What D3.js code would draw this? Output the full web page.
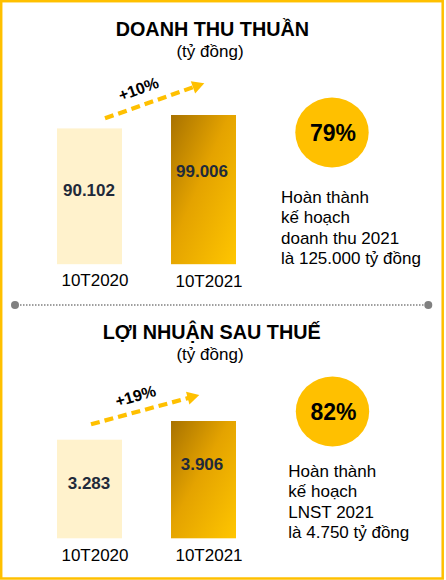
<!DOCTYPE html>
<html>
<head>
<meta charset="utf-8">
<script src="https://cdn.jsdelivr.net/npm/d3@7"></script>
<style>
  html, body { margin: 0; padding: 0; background: #ffffff; }
  svg { display: block; }
  text { font-family: "Liberation Sans", Arial, sans-serif; }
</style>
</head>
<body>
<svg id="chart" width="446" height="580"></svg>
<script>
// ---------- DATA ----------
const categories = ["10T2020", "10T2021"];
const revenueValues = [90.102, 99.006];
const profitValues = [3.283, 3.906];
const revenueLabels = ["90.102", "99.006"];
const profitLabels = ["3.283", "3.906"];
const sectionTitles = ["DOANH THU THUẦN", "LỢI NHUẬN SAU THUẾ"];
const unitLabel = "(tỷ đồng)";
const growthLabels = ["+10%", "+19%"];
const completionLabels = ["79%", "82%"];
const revenueNotes = ["Hoàn thành", "kế hoạch", "doanh thu 2021", "là 125.000 tỷ đồng"];
const profitNotes = ["Hoàn thành", "kế hoạch", "LNST 2021", "là 4.750 tỷ đồng"];

// ---------- LAYOUT ----------
const svg = d3.select("#chart");
const gold = "#FFC000";
const pale = "#FFF2CC";
const valueColor = "#1F2A3A";

// gradient for the current-year bar
const defs = svg.append("defs");
const grad = defs.append("linearGradient")
  .attr("id", "goldGrad")
  .attr("x1", "0").attr("y1", "0").attr("x2", "1").attr("y2", "1");
grad.append("stop").attr("offset", "0%").attr("stop-color", "#A87200");
grad.append("stop").attr("offset", "45%").attr("stop-color", "#E4A300");
grad.append("stop").attr("offset", "100%").attr("stop-color", "#FFC600");

defs.append("marker")
  .attr("id", "arrowHead")
  .attr("viewBox", "0 0 10 10")
  .attr("refX", 9).attr("refY", 5)
  .attr("markerUnits", "userSpaceOnUse")
  .attr("markerWidth", 13).attr("markerHeight", 13)
  .attr("orient", "auto")
  .append("path")
  .attr("d", "M0,0 L10,5 L0,10 Z")
  .attr("fill", gold);

// frame
svg.append("rect")
  .attr("x", 1.2).attr("y", 1.2)
  .attr("width", 441.5).attr("height", 577.3)
  .attr("fill", "none")
  .attr("stroke", gold)
  .attr("stroke-width", 2.5);

const sections = [
  {
    values: revenueValues, labels: revenueLabels, title: sectionTitles[0],
    growth: growthLabels[0], completion: completionLabels[0], notes: revenueNotes,
    titleY: 35.7, titleX: 212.4, subY: 56.5, base: 264.2, maxTop: 115,
    arrow: [[105, 118.3], [204.3, 83.3]], growthPos: [138.5, 89], growthRot: -20,
    circle: [332, 132.5], notesX: 281, notesY: 202.7,
    catY: [285.7, 286.7]
  },
  {
    values: profitValues, labels: profitLabels, title: sectionTitles[1],
    growth: growthLabels[1], completion: completionLabels[1], notes: profitNotes,
    titleY: 339.3, titleX: 211.7, subY: 359.5, base: 538.3, maxTop: 421,
    arrow: [[91, 424.3], [199.3, 395]], growthPos: [135.5, 396], growthRot: -16,
    circle: [332.5, 411.5], notesX: 288.3, notesY: 476.7,
    catY: [560.7, 561]
  }
];

const x = d3.scaleBand()
  .domain(categories)
  .range([57, 236])
  .paddingInner(0.43)
  .paddingOuter(0);

const labelFrac = [0.5, 0.415];
const barFills = [pale, "url(#goldGrad)"];

sections.forEach(s => {
  const g = svg.append("g");

  // titles
  g.append("text")
    .attr("x", s.titleX).attr("y", s.titleY)
    .attr("text-anchor", "middle")
    .attr("font-size", 19.8).attr("font-weight", "bold")
    .attr("fill", "#000")
    .text(s.title);
  g.append("text")
    .attr("x", 210).attr("y", s.subY)
    .attr("text-anchor", "middle")
    .attr("font-size", 17)
    .attr("fill", "#000")
    .text(unitLabel);

  const y = d3.scaleLinear()
    .domain([0, d3.max(s.values)])
    .range([s.base, s.maxTop]);

  const data = categories.map((c, i) => ({ c, v: s.values[i], label: s.labels[i], i }));

  // bars
  g.selectAll("rect.bar").data(data).join("rect")
    .attr("class", "bar")
    .attr("x", d => x(d.c))
    .attr("y", d => y(d.v))
    .attr("width", x.bandwidth())
    .attr("height", d => s.base - y(d.v))
    .attr("fill", d => barFills[d.i]);

  // value labels
  g.selectAll("text.val").data(data).join("text")
    .attr("class", "val")
    .attr("x", d => x(d.c) + x.bandwidth() / 2 - (d.i === 1 ? 1.5 : 0.5))
    .attr("y", d => y(d.v) + (s.base - y(d.v)) * labelFrac[d.i])
    .attr("text-anchor", "middle")
    .attr("font-size", 17).attr("font-weight", "bold")
    .attr("fill", valueColor)
    .text(d => d.label);

  // category labels
  g.selectAll("text.cat").data(data).join("text")
    .attr("class", "cat")
    .attr("x", d => x(d.c) + x.bandwidth() / 2 + 5.5)
    .attr("y", d => s.catY[d.i])
    .attr("text-anchor", "middle")
    .attr("font-size", 17)
    .attr("fill", "#000")
    .text(d => d.c);

  // growth arrow
  const [p0, p1] = s.arrow;
  const ang = Math.atan2(p1[1] - p0[1], p1[0] - p0[0]);
  const endX = p1[0] - 10 * Math.cos(ang), endY = p1[1] - 10 * Math.sin(ang);
  g.append("line")
    .attr("x1", p0[0]).attr("y1", p0[1])
    .attr("x2", endX).attr("y2", endY)
    .attr("stroke", gold)
    .attr("stroke-width", 4.2)
    .attr("stroke-dasharray", "9,5");
  g.append("path")
    .attr("d", () => {
      const len = 12, half = 6.5;
      const bx = p1[0] - len * Math.cos(ang), by = p1[1] - len * Math.sin(ang);
      const nx = -Math.sin(ang), ny = Math.cos(ang);
      return `M${p1[0]},${p1[1]} L${bx + nx * half},${by + ny * half} L${bx - nx * half},${by - ny * half} Z`;
    })
    .attr("fill", gold);

  g.append("text")
    .attr("transform", `translate(${s.growthPos[0]},${s.growthPos[1]}) rotate(${s.growthRot})`)
    .attr("text-anchor", "middle")
    .attr("dominant-baseline", "central")
    .attr("font-size", 16).attr("font-weight", "bold")
    .attr("fill", "#000")
    .text(s.growth);

  // completion circle
  g.append("ellipse")
    .attr("cx", s.circle[0]).attr("cy", s.circle[1])
    .attr("rx", 36.7).attr("ry", 35)
    .attr("fill", gold);
  g.append("text")
    .attr("x", s.circle[0] + 1).attr("y", s.circle[1] + 8.2)
    .attr("text-anchor", "middle")
    .attr("font-size", 23).attr("font-weight", "bold")
    .attr("fill", "#000")
    .text(s.completion);

  // notes
  g.selectAll("text.note").data(s.notes).join("text")
    .attr("class", "note")
    .attr("x", s.notesX)
    .attr("y", (d, i) => s.notesY + i * 20.4)
    .attr("font-size", 17)
    .attr("fill", "#000")
    .text(d => d);
});

// divider
svg.append("line")
  .attr("x1", 20).attr("x2", 424)
  .attr("y1", 305).attr("y2", 305)
  .attr("stroke", "#808080")
  .attr("stroke-width", 1.5)
  .attr("stroke-dasharray", "1.5,1.5");
svg.selectAll("circle.endpt").data([15, 428.3]).join("circle")
  .attr("class", "endpt")
  .attr("cx", d => d).attr("cy", 305)
  .attr("r", 4)
  .attr("fill", "#808080");
</script>
</body>
</html>
